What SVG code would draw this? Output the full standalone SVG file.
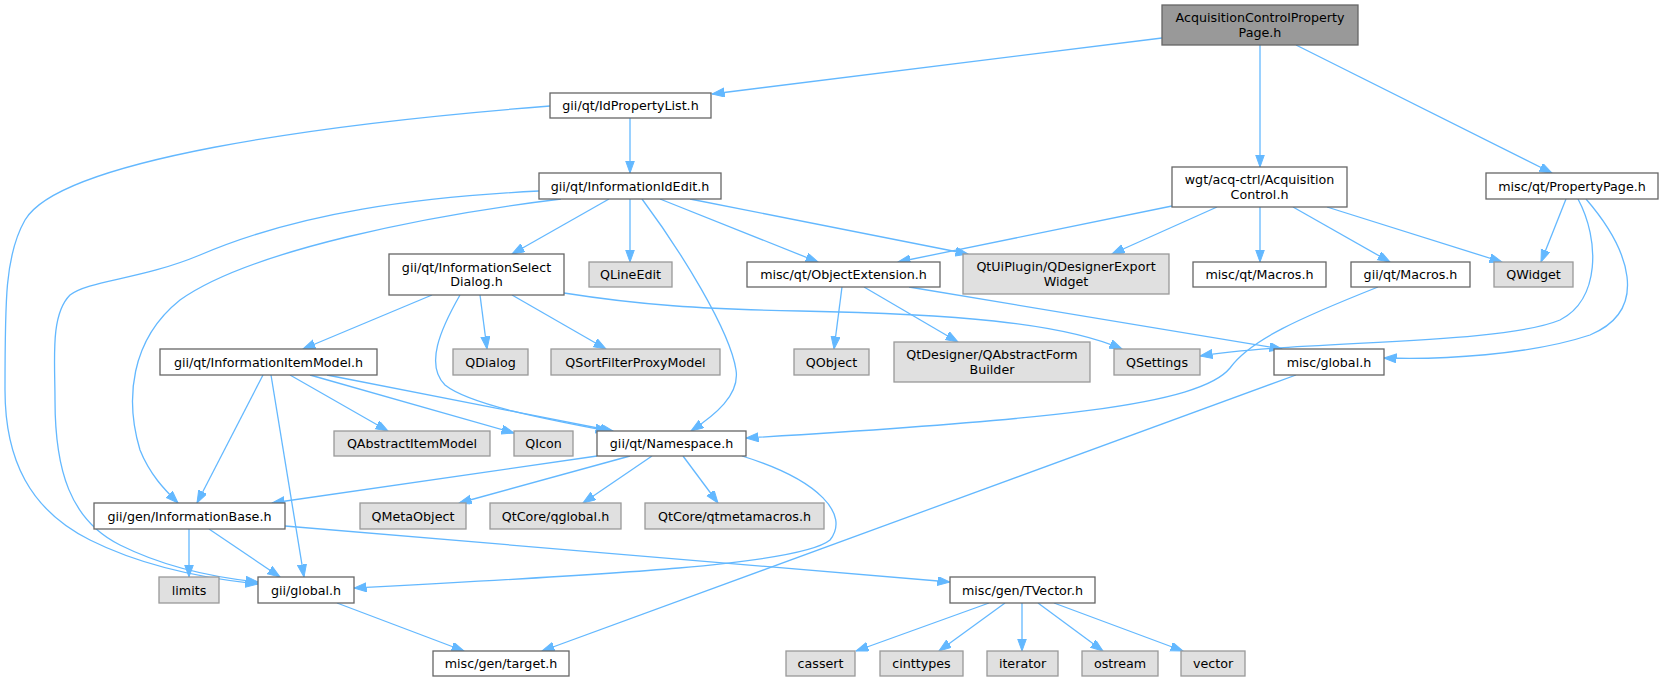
<svg xmlns="http://www.w3.org/2000/svg" width="1663" height="681" viewBox="0 0 1663 681">
<style>
rect{stroke-width:1.3}
.n rect{fill:#ffffff;stroke:#666666}
.x rect{fill:#e0e0e0;stroke:#999999}
.r rect{fill:#999999;stroke:#666666}
text{font-family:"DejaVu Sans",Verdana,sans-serif;font-size:12.7px;text-anchor:middle;fill:#000000}
.e path{fill:none;stroke:#63b8ff;stroke-width:1.3;marker-end:url(#a)}
</style>
<defs>
<marker id="a" markerUnits="userSpaceOnUse" markerWidth="13" markerHeight="10" refX="12.5" refY="4.5" orient="auto">
<path d="M0,0 L12.5,4.5 L0,9 z" fill="#63b8ff" stroke="#63b8ff" stroke-width="1"/>
</marker>
</defs>
<rect width="1663" height="681" fill="#ffffff"/>
<g class="e" id="edges">
<path d="M1162,38 L712,94"/>
<path d="M1260,45 L1260,167"/>
<path d="M1296,45 L1552,173"/>
<path d="M630,118 L630,173"/>
<path d="M550,106 C320,124 60,160 25,220 C5,255 5,300 5,390 C5,460 30,510 90,540 C140,565 200,578 258,584"/>
<path d="M609,199 L512,254"/>
<path d="M630,199 L630,262"/>
<path d="M642,199 C680,250 730,330 736,370 C740,395 715,415 691,431"/>
<path d="M660,199 L818,262"/>
<path d="M690,199 L968,254"/>
<path d="M561,199 C430,215 250,250 180,300 C130,340 125,400 140,450 C150,475 165,490 178,503"/>
<path d="M539,191 C420,197 300,212 200,255 C140,280 90,280 70,295 C50,315 55,360 55,400 C55,470 70,520 120,545 C160,565 210,577 258,582"/>
<path d="M432,295 L303,349"/>
<path d="M460,295 C440,330 425,365 445,385 C470,405 550,420 608,431"/>
<path d="M480,295 L487,349"/>
<path d="M512,295 L606,349"/>
<path d="M564,293 C640,305 700,309 800,311 C950,314 1060,322 1122,349"/>
<path d="M263,375 L197,503"/>
<path d="M271,375 L304,577"/>
<path d="M290,375 L388,431"/>
<path d="M310,375 L514,433"/>
<path d="M327,375 L613,431"/>
<path d="M842,287 L834,349"/>
<path d="M864,287 L958,342"/>
<path d="M909,287 L1282,349"/>
<path d="M1172,206 L898,262"/>
<path d="M1217,207 L1112,254"/>
<path d="M1260,207 L1260,262"/>
<path d="M1293,207 L1390,262"/>
<path d="M1327,207 L1502,262"/>
<path d="M1566,199 L1541,262"/>
<path d="M1578,199 C1600,240 1600,300 1560,320 C1500,345 1300,340 1200,356"/>
<path d="M1586,199 C1630,250 1650,310 1590,335 C1530,355 1440,360 1384,358"/>
<path d="M1378,287 C1300,318 1250,340 1230,368 C1200,405 1050,420 746,438"/>
<path d="M1296,375 L542,651"/>
<path d="M597,456 L272,503"/>
<path d="M630,456 L459,503"/>
<path d="M652,456 L583,503"/>
<path d="M683,456 L718,503"/>
<path d="M742,456 C820,480 850,515 830,540 C800,565 600,575 354,588"/>
<path d="M189,529 L189,577"/>
<path d="M209,529 L280,577"/>
<path d="M285,526 L950,582"/>
<path d="M337,603 L464,651"/>
<path d="M989,603 L856,651"/>
<path d="M1005,603 L939,651"/>
<path d="M1022,603 L1022,651"/>
<path d="M1038,603 L1103,651"/>
<path d="M1054,603 L1183,651"/>
</g>
<g id="n_root" class="r"><rect x="1162" y="5" width="196" height="40"/><text x="1260" y="22">AcquisitionControlProperty</text><text x="1260" y="37">Page.h</text></g>
<g id="n_idproplist" class="n"><rect x="550" y="93" width="161" height="25"/><text x="630.5" y="110">gii/qt/IdPropertyList.h</text></g>
<g id="n_infoidedit" class="n"><rect x="539" y="173" width="182" height="26"/><text x="630" y="190.5">gii/qt/InformationIdEdit.h</text></g>
<g id="n_acqctrl" class="n"><rect x="1172" y="167" width="175" height="40"/><text x="1259.5" y="184">wgt/acq-ctrl/Acquisition</text><text x="1259.5" y="199">Control.h</text></g>
<g id="n_proppage" class="n"><rect x="1486" y="173" width="172" height="26"/><text x="1572" y="190.5">misc/qt/PropertyPage.h</text></g>
<g id="n_seldialog" class="n"><rect x="389" y="254" width="175" height="41"/><text x="476.5" y="271.5">gii/qt/InformationSelect</text><text x="476.5" y="286">Dialog.h</text></g>
<g id="n_qlineedit" class="x"><rect x="589" y="262" width="83" height="25"/><text x="630.5" y="279">QLineEdit</text></g>
<g id="n_objext" class="n"><rect x="747" y="262" width="193" height="25"/><text x="843.5" y="279">misc/qt/ObjectExtension.h</text></g>
<g id="n_qtuiplugin" class="x"><rect x="963" y="254" width="206" height="40"/><text x="1066" y="271">QtUiPlugin/QDesignerExport</text><text x="1066" y="286">Widget</text></g>
<g id="n_miscmacros" class="n"><rect x="1193" y="262" width="133" height="25"/><text x="1259.5" y="279">misc/qt/Macros.h</text></g>
<g id="n_giimacros" class="n"><rect x="1351" y="262" width="119" height="25"/><text x="1410.5" y="279">gii/qt/Macros.h</text></g>
<g id="n_qwidget" class="x"><rect x="1494" y="262" width="79" height="25"/><text x="1533.5" y="279">QWidget</text></g>
<g id="n_itemmodel" class="n"><rect x="160" y="349" width="217" height="26"/><text x="268.5" y="366.5">gii/qt/InformationItemModel.h</text></g>
<g id="n_qdialog" class="x"><rect x="453" y="349" width="75" height="26"/><text x="490.5" y="366.5">QDialog</text></g>
<g id="n_qsort" class="x"><rect x="551" y="349" width="169" height="26"/><text x="635.5" y="366.5">QSortFilterProxyModel</text></g>
<g id="n_qobject" class="x"><rect x="794" y="349" width="75" height="26"/><text x="831.5" y="366.5">QObject</text></g>
<g id="n_qtdesigner" class="x"><rect x="894" y="342" width="196" height="40"/><text x="992" y="359">QtDesigner/QAbstractForm</text><text x="992" y="374">Builder</text></g>
<g id="n_qsettings" class="x"><rect x="1114" y="349" width="86" height="26"/><text x="1157" y="366.5">QSettings</text></g>
<g id="n_miscglobal" class="n"><rect x="1274" y="349" width="110" height="26"/><text x="1329" y="366.5">misc/global.h</text></g>
<g id="n_qabsitem" class="x"><rect x="334" y="431" width="156" height="25"/><text x="412" y="448">QAbstractItemModel</text></g>
<g id="n_qicon" class="x"><rect x="514" y="431" width="59" height="25"/><text x="543.5" y="448">QIcon</text></g>
<g id="n_namespace" class="n"><rect x="597" y="431" width="149" height="25"/><text x="671.5" y="448">gii/qt/Namespace.h</text></g>
<g id="n_infobase" class="n"><rect x="94" y="503" width="191" height="26"/><text x="189.5" y="520.5">gii/gen/InformationBase.h</text></g>
<g id="n_qmetaobject" class="x"><rect x="360" y="503" width="106" height="26"/><text x="413" y="520.5">QMetaObject</text></g>
<g id="n_qglobal" class="x"><rect x="490" y="503" width="131" height="26"/><text x="555.5" y="520.5">QtCore/qglobal.h</text></g>
<g id="n_qtmeta" class="x"><rect x="645" y="503" width="179" height="26"/><text x="734.5" y="520.5">QtCore/qtmetamacros.h</text></g>
<g id="n_limits" class="x"><rect x="159" y="577" width="60" height="26"/><text x="189" y="594.5">limits</text></g>
<g id="n_giiglobal" class="n"><rect x="258" y="577" width="96" height="26"/><text x="306" y="594.5">gii/global.h</text></g>
<g id="n_tvector" class="n"><rect x="950" y="577" width="145" height="26"/><text x="1022.5" y="594.5">misc/gen/TVector.h</text></g>
<g id="n_target" class="n"><rect x="433" y="651" width="136" height="25"/><text x="501" y="668">misc/gen/target.h</text></g>
<g id="n_cassert" class="x"><rect x="786" y="651" width="69" height="25"/><text x="820.5" y="668">cassert</text></g>
<g id="n_cinttypes" class="x"><rect x="880" y="651" width="83" height="25"/><text x="921.5" y="668">cinttypes</text></g>
<g id="n_iterator" class="x"><rect x="987" y="651" width="71" height="25"/><text x="1022.5" y="668">iterator</text></g>
<g id="n_ostream" class="x"><rect x="1082" y="651" width="76" height="25"/><text x="1120" y="668">ostream</text></g>
<g id="n_vector" class="x"><rect x="1181" y="651" width="64" height="25"/><text x="1213" y="668">vector</text></g>
</svg>
